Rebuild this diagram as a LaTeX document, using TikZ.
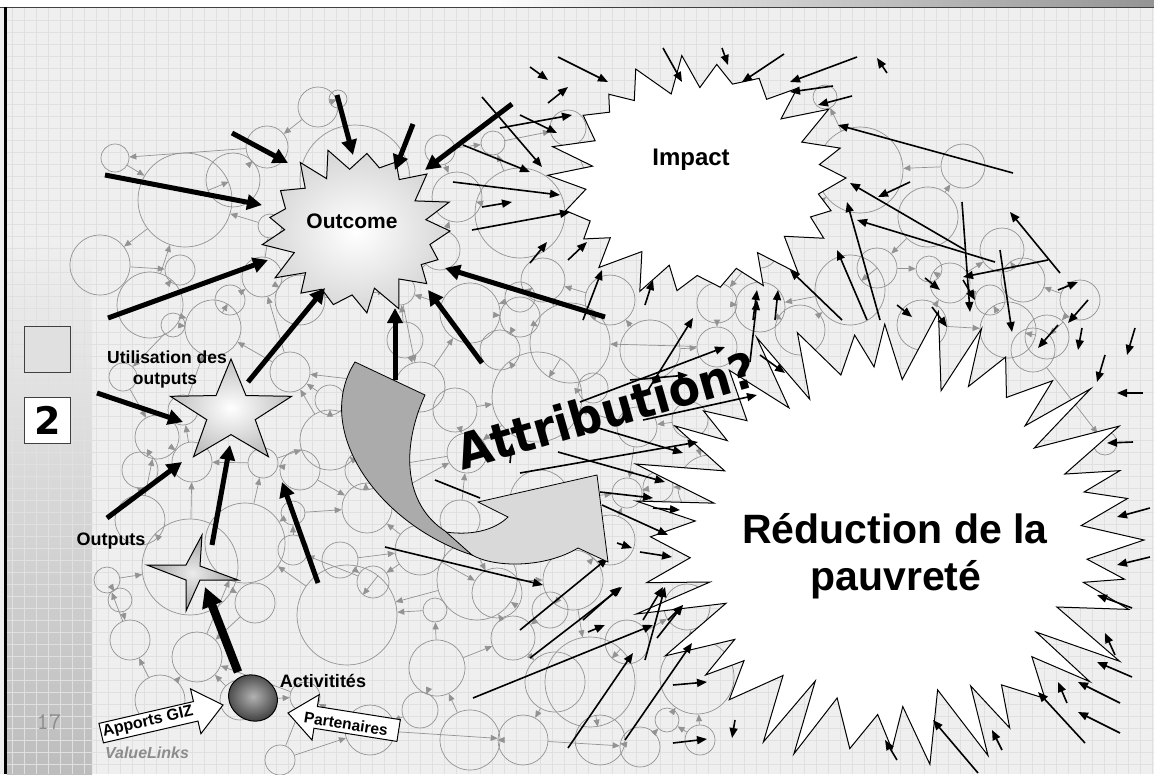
\documentclass[tikz,border=0pt]{standalone}
\usepackage{fontspec}
\setmainfont{Liberation Sans}
\newfontfamily\dvs{DejaVu Sans}
\usetikzlibrary{arrows.meta,shapes.geometric}
\definecolor{bgc}{HTML}{EFEFEF}
\definecolor{gridc}{HTML}{E0E0E0}
\definecolor{sidec}{HTML}{BDBDBD}
\definecolor{darkc}{HTML}{ABABAB}
\definecolor{lightc}{HTML}{D9D9D9}
\newcommand\mkburst[8]{%
 \path[#1] ({#2+#4},#3) \foreach \i in {1,...,#6} { -- ({#2+#4*(#7+(1-#7)*(1+cos(\i*180))/2)*(1+0.06*sin(\i*137))*cos(\i*#8+1.5*sin(\i*71))},{#3+#5*(#7+(1-#7)*(1+cos(\i*180))/2)*(1+0.06*sin(\i*137))*sin(\i*#8+1.5*sin(\i*71))}) } -- cycle;}
\begin{document}
\begin{tikzpicture}[x=1pt,y=-1pt,
  gc/.style={circle, draw=gray!85, line width=0.7, inner sep=0pt},
  garr/.style={draw=gray!85, line width=0.7, -{Triangle[length=7pt,width=6pt]}},
  tar/.style={line width=1.6, -{Triangle[length=10pt,width=8pt]}},
  kar/.style={line width=5, -{Triangle[length=15pt,width=15pt]}},
  lbl/.style={font=\bfseries\fontsize{18}{20}\selectfont, inner sep=0pt},
  burst/.style={draw=black, line width=1},
  blockarr/.style={draw=black, line width=1, fill=white}]
\useasboundingbox (0,0) rectangle (1154,774);
% background
\fill[bgc] (0,0) rectangle (1154,774);
\shade[top color=bgc, bottom color=sidec] (7,240) rectangle (92,774);
\foreach \gx in {12,24,...,1152} \draw[gridc, line width=0.6] (\gx,8) -- (\gx,774);
\foreach \gy in {20,32,...,770} \draw[gridc, line width=0.6] (7,\gy) -- (1154,\gy);
\fill[white] (0,0) rectangle (480,7.5);
\shade[left color=white, right color=black!42] (480,0) rectangle (1154,7.5);
\draw[black!75, line width=1.5] (0,7.5) -- (1154,7.5);
\draw[line width=2.5] (5.5,7) -- (5.5,774);
% gray network
\foreach \n/\cx/\cy/\rr in {1/115/158/14,2/185/200/47,3/233/180/27,4/267/147/21,5/318/107/20,6/338/99/9,7/355/180/55,8/270/226/12,9/262/277/20,10/100/265/30,11/180/270/15,12/150/305/33,13/213/328/28,14/173/325/12,15/123/377/14,16/157/437/22,17/192/462/20,18/183/410/15,19/263/463/15,20/245/543/40,21/293/513/12,22/290/372/20,23/107/580/13,24/190/567/48,25/255/603/20,26/197/657/25,27/347/615/50,28/373/582/16,29/435/610/12,30/437/668/28,31/305/697/15,32/293/550/15,33/420/387/25,34/367/508/25,35/537/397/45,36/467/453/20,37/570/343/40,38/637/427/20,39/710/487/32,40/658/487/15,41/627/493/15,42/717/347/20,43/520/317/20,44/593/388/15,45/420/550/25,46/497/593/25,47/365/470/20,48/573/580/30,50/513/638/22,51/555/682/30,52/590/682/45,53/627/642/22,54/523/740/25,55/640/747/20,56/667/720/12,57/697/677/37,58/687/607/23,59/477/580/40,60/457/197/25,61/520/213/45,62/493/143/12,63/470/313/30,64/543/280/22,65/520/297/15,67/568/128/18,68/825/97/12,69/860/170/43,70/963/166/22,71/928/217/30,72/877/268/20,73/929/269/13,74/950/283/20,75/1002/250/22,76/1023/280/22,77/922/325/25,78/1008/330/28,79/1047/337/22,80/1105/443/12,81/1033/350/22,82/330/440/30,84/300/300/25,85/440/250/20,86/400/290/15,87/760/307/25,88/717/303/20,89/850/290/35,90/140/520/25,91/130/640/20,92/160/700/25,93/370/730/25,94/280/760/15,95/405/340/18,96/455/410/22,97/500/350/20,98/610/300/25,99/650/350/30,100/690/420/18,101/330/400/15,102/300/470/20,103/340/560/18,104/460/520/20,105/540/500/30,106/610/540/25,107/550/610/18,108/600/740/25,109/700/740/15,110/470/740/30,111/420/710/18,112/240/700/20,113/230/300/15,114/300/240/12,115/440/150/15,116/600/210/15,117/760/250/18,118/800/330/25,119/1080/300/20,120/990/300/15,121/140/470/18,122/120/600/12}
  \node[gc, minimum size=2*\rr] (c\n) at (\cx,\cy) {};
\foreach \a/\b in {1/2,4/1,3/2,4/3,5/4,6/5,8/2,2/10,10/11,11/12,12/13,13/14,14/15,15/16,16/17,17/18,18/13,19/17,20/19,21/20,22/13,22/9,9/8,23/24,24/25,25/26,26/20,27/28,28/32,32/21,31/26,30/29,29/27,33/22,33/47,47/34,34/36,35/36,35/37,37/43,43/63,63/86,86/33,38/35,38/41,40/41,39/40,42/37,44/35,45/34,45/46,46/59,59/48,48/52,52/53,53/58,57/58,56/57,55/56,54/55,51/54,50/51,30/50,60/61,61/62,62/67,64/65,65/63,64/37,85/60,85/86,69/68,70/69,71/70,71/72,72/73,73/74,74/75,75/76,77/78,78/79,79/81,81/80,77/74,82/47,82/22,84/9,84/86,12/2,24/17,27/20,59/27,50/59,36/47,87/88,88/42,89/87,89/72,90/24,90/16,91/23,92/26,92/91,93/31,93/54,94/93,94/31,19/82,21/34,45/28,33/63,95/33,95/86,96/36,96/35,97/43,97/35,98/37,98/64,99/98,99/42,100/39,100/38,101/22,101/82,102/19,102/34,103/28,103/45,104/36,104/46,105/41,105/48,106/48,106/41,107/50,107/48,108/55,108/52,109/57,109/56,110/54,110/30,111/30,111/93,112/26,112/31,113/13,113/9,114/8,114/7,115/60,115/62,116/61,116/67,117/88,117/69,118/89,118/87,119/79,119/76,120/78,120/74,121/16,121/90,122/23,122/91}
  \draw[garr] (c\a) -- (c\b);
% big bursts
\mkburst{burst, fill=white}{700}{178}{146}{117}{43}{0.79}{8.1818}
\mkburst{burst, fill=white}{890}{540}{254}{220}{71}{0.75}{5}
\mkburst{burst, shade, inner color=white, outer color=gray!32}{357}{231}{93}{81}{33}{0.77}{10.588}
% utilisation star
\draw[line width=1, shade, inner color=white, outer color=gray!50] (231,359) \foreach \k in {1,...,9} { -- ({231+1.18*(54*(0.4+0.6*(1+cos(\k*180))/2))*cos(-90+\k*36)},{413+(54*(0.4+0.6*(1+cos(\k*180))/2))*sin(-90+\k*36)}) } -- cycle;
% outputs star
\draw[line width=1, shade, inner color=gray!15, outer color=gray!75] (147,565) -- (186,565) -- (202,535) -- (200,566) -- (238,580) -- (200,580) -- (186,611) -- (186,580) -- cycle;
% activites ellipse
\node[ellipse, draw, line width=1, minimum width=50pt, minimum height=45pt, rotate=-30, shade, inner color=gray!60, outer color=black!75] (act) at (253,698) {};
% thin black arrows
\foreach \ax/\ay/\bx/\by in {530/67/548/80,558/57/608/82,548/103/568/87,663/48/682/82,722/48/728/65,784/54/742/82,857/57/790/82,887/73/877/58,833/86/790/92,852/96/818/105,1013/173/838/125,482/97/542/167,520/115/557/133,500/128/572/115,463/145/530/172,453/182/560/195,482/207/512/202,472/230/570/212,530/263/547/242,568/260/587/242,583/320/602/270,645/305/653/280,965/250/850/183,995/262/857/220,880/320/847/202,867/320/837/250,842/320/790/270,775/320/778/290,753/320/757/290,910/182/878/197,962/202/970/312,1000/250/1012/332,1048/260/963/277,1060/273/1010/212,925/278/940/290,963/280/975/300,897/305/912/317,932/307/947/327,1058/290/1078/282,1088/300/1068/323,1058/325/1038/348,1082/328/1078/350,1135/328/1127/355,1105/355/1097/382,1143/393/1117/393,1133/442/1107/443,1150/508/1117/517,1150/557/1117/565,1132/608/1097/595,1115/655/1105/633,1132/677/1097/662,1120/703/1078/682,1120/733/1078/712,1085/743/1038/692,1067/703/1058/682,978/773/933/720,1002/750/992/730,897/760/885/740,520/630/608/558,530/658/622/587,473/698/653/625,568/748/633/653,645/660/665/587,625/740/692/643,657/638/683/605,588/632/605/625,673/685/707/682,673/743/707/739,735/720/732/738,648/390/693/318,580/402/725/347,630/380/688/375,643/420/757/395,760/355/785/373,520/473/698/442,595/427/683/453,558/452/665/482,600/492/653/498,653/508/680/510,602/505/668/535,617/543/632/548,640/552/672/557,385/547/543/585,510/463/512/443,583/620/620/587,643/620/663/587,668/620/683/605,750/362/757/300}
  \draw[tar] (\ax,\ay) -- (\bx,\by);
\draw[line width=1.6] (435,480) -- (480,498);
% thick black arrows
\foreach \ax/\ay/\bx/\by in {105/175/262/205,232/133/288/163,337/95/353/155,413/124/395/170,512/104/425/170,108/318/268/260,248/382/325/288,395/380/395/308,482/363/428/290,605/317/445/268,107/518/182/462,97/393/183/422,212/545/230/445,318/583/282/482}
  \draw[kar] (\ax,\ay) -- (\bx,\by);
\draw[line width=8.5, -{Triangle[length=20pt,width=20pt]}] (238,672) -- (205,587);
% curved block arrow
\draw[fill=lightc, line width=0.8] (478,502) -- (597,475) -- (608,562) -- (578,548) .. controls (545,568) and (495,568) .. (472,555) -- (440,531) .. controls (470,537) and (495,530) .. (508,517) -- cycle;
\draw[fill=darkc, line width=0.8] (355,362) -- (425,395) .. controls (400,450) and (405,505) .. (445,531) -- (472,555) .. controls (378,524) and (312,430) .. (355,362) -- cycle;
% block arrows
\begin{scope}[shift={(223,705)}, rotate=13]
  \draw[blockarr] (0,0) -- (-28,-23) -- (-28,-10) -- (-125,-10) -- (-125,10) -- (-28,10) -- (-28,23) -- cycle;
\end{scope}
\begin{scope}[shift={(288,713)}, rotate=171]
  \draw[blockarr] (0,0) -- (-28,-23) -- (-28,-11) -- (-112,-11) -- (-112,11) -- (-28,11) -- (-28,23) -- cycle;
\end{scope}
% labels
\node[lbl, rotate=13, font=\bfseries\fontsize{16}{16}\selectfont] (giz) at (148,722) {Apports GIZ};
\node[lbl, rotate=-9, font=\bfseries\fontsize{15.5}{16}\selectfont] (part) at (346,724) {Partenaires};
\node[lbl, anchor=base, font=\bfseries\fontsize{21}{24}\selectfont] (outc) at (352,228) {Outcome};
\node[lbl, anchor=base, font=\bfseries\fontsize{24}{28}\selectfont] (imp) at (691,165) {Impact};
\node[lbl, anchor=base, font=\bfseries\fontsize{41}{46}\selectfont] (red1) at (895,543) {Réduction de la};
\node[lbl, anchor=base, font=\bfseries\fontsize{41}{46}\selectfont] (red2) at (896,590) {pauvreté};
\node[lbl, anchor=base, font=\bfseries\fontsize{17.5}{20}\selectfont] (util1) at (167,363) {Utilisation des};
\node[lbl, anchor=base, font=\bfseries\fontsize{17.5}{20}\selectfont] (util2) at (165,384) {outputs};
\node[lbl, anchor=base] (outp) at (111,545) {Outputs};
\node[lbl, anchor=base] (actl) at (323,687) {Activitités};
\node[rotate=16, inner sep=0pt, xscale=0.93, font=\dvs\bfseries\fontsize{49}{49}\selectfont] (attr) at (606,410) {Attribution?};
% sidebar items
\node[draw=black!75, line width=1, fill=black!12, minimum size=46pt, inner sep=0pt] (gbox) at (47.5,349) {};
\node[draw=black!75, line width=1, fill=white, minimum size=46pt, inner sep=0pt, font=\dvs\bfseries\fontsize{38}{38}\selectfont] (two) at (47.5,420) {2};
\node[text=black!45, font=\ttfamily\fontsize{24}{24}\selectfont] (pg) at (49,722) {17};
\node[text=black!45, font=\bfseries\itshape\fontsize{16}{16}\selectfont] (vl) at (147,753) {ValueLinks};
\end{tikzpicture}
\end{document}
